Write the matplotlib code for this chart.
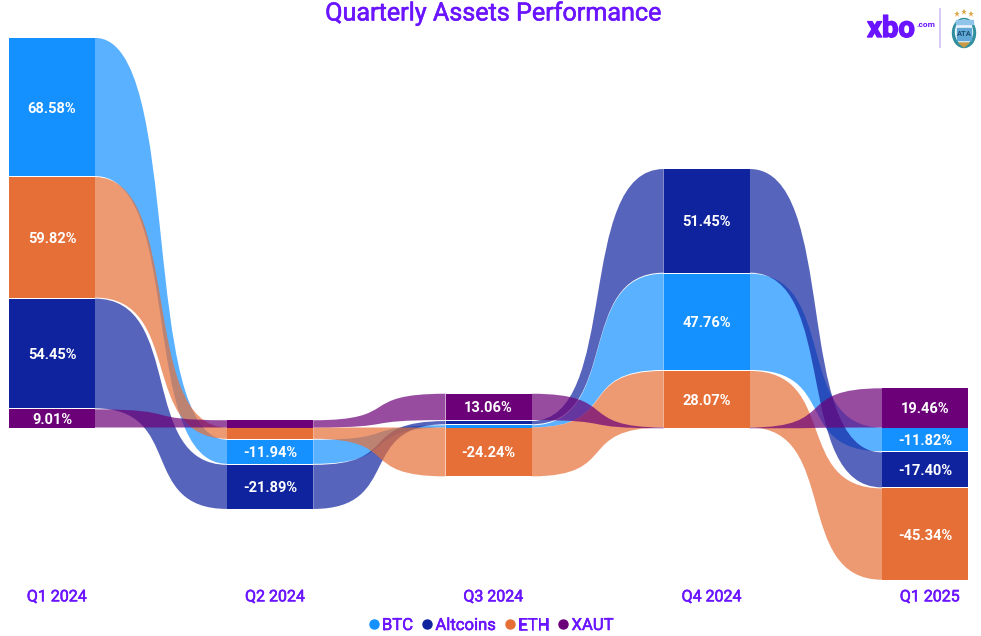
import matplotlib
matplotlib.use("Agg")
import matplotlib.pyplot as plt
import matplotlib.patheffects as pe
from matplotlib.path import Path
from matplotlib.patches import PathPatch, Ellipse, Rectangle, Polygon
from matplotlib.lines import Line2D
from matplotlib.colors import to_rgba

plt.rcParams['font.family'] = ['Roboto', 'DejaVu Sans']

quarters = ['Q1 2024', 'Q2 2024', 'Q3 2024', 'Q4 2024', 'Q1 2025']
assets = ['BTC', 'Altcoins', 'ETH', 'XAUT']
btc = [68.58, -11.94, 1.1, 47.76, -11.82]
altcoins = [54.45, -21.89, 1.6, 51.45, -17.40]
eth = [59.82, -5.6, -24.24, 28.07, -45.34]
xaut = [9.01, 3.6, 13.06, -0.4, 19.46]
colors = ['#1490ff', '#10239e', '#e66e37', '#6b0078']
purple = '#6a14ff'

series = [btc, altcoins, eth, xaut]
bar_w = 86 / 218.25
px = 2.015  # pixels per percentage point
gap = 1 / px
ctrl = 0.68
thick = [pe.withStroke(linewidth=0.4, foreground=purple)]


def stack(q):
    # smallest goes next to zero, positives up and negatives down, 1px between bands
    out = {}
    vals = [s[q] for s in series]
    pos = 0
    for i in sorted(range(4), key=lambda k: vals[k]):
        if vals[i] > 0:
            out[i] = (pos, pos + vals[i])
            pos += vals[i] + gap
    neg = 0
    for i in sorted(range(4), key=lambda k: -vals[k]):
        if vals[i] <= 0:
            out[i] = (neg + vals[i], neg)
            neg += vals[i] - gap
    return out


fig = plt.figure(figsize=(9.81, 6.36), dpi=100)
ax = fig.add_axes([0, 0, 1, 1])
ax.set_xlim(-52 / 218.25, (981 - 52) / 218.25)
ax.set_ylim(-(636 - 427.5) / px, 427.5 / px)
ax.axis('off')

stacks = [stack(q) for q in range(len(quarters))]

for i, s in enumerate(series):
    for q in range(len(quarters)):
        lo, hi = stacks[q][i]
        ax.bar(q, hi - lo, bar_w, bottom=lo, color=colors[i], linewidth=0, zorder=5)
        if abs(s[q]) >= 9:
            ax.annotate('%.2f%%' % s[q], (q, (lo + hi) / 2), xytext=(0, -1.1), textcoords='offset points',
                        color='white', ha='center', va='center', fontsize=10.5, fontweight='bold', zorder=6)
        if q < len(quarters) - 1:
            lo2, hi2 = stacks[q + 1][i]
            x0 = q + bar_w / 2
            x1 = q + 1 - bar_w / 2
            c0 = x0 + (x1 - x0) * ctrl
            c1 = x1 - (x1 - x0) * ctrl
            verts = [(x0, hi), (c0, hi), (c1, hi2), (x1, hi2), (x1, lo2), (c1, lo2), (c0, lo), (x0, lo), (x0, hi)]
            codes = [Path.MOVETO, Path.CURVE4, Path.CURVE4, Path.CURVE4, Path.LINETO,
                     Path.CURVE4, Path.CURVE4, Path.CURVE4, Path.CLOSEPOLY]
            ax.add_patch(PathPatch(Path(verts, codes), facecolor=to_rgba(colors[i], 0.7),
                                   edgecolor='none', zorder=2 + i * 0.1))

for q, name in enumerate(quarters):
    ax.annotate(name, (q, 0), xycoords=('data', 'axes fraction'), xytext=(3.6, 28.2),
                textcoords='offset points', ha='center', va='center', color=purple,
                fontsize=11.5, fontweight='normal', path_effects=thick)

handles = [Line2D([], [], marker='o', linestyle='none', color=c, markersize=6.5) for c in colors]
leg = ax.legend(handles, assets, ncol=4, loc='center', bbox_to_anchor=(0.5, 10.5 / 636), frameon=False,
                labelcolor=purple, fontsize=12, handlelength=0.7, handletextpad=0.15, columnspacing=0.5,
                borderpad=0)
for t in leg.get_texts():
    t.set_path_effects(thick)

fig.text(493 / 981, 1 - 13 / 636, 'Quarterly Assets Performance', ha='center', va='center',
         color=purple, fontsize=18.1, fontweight='normal', path_effects=thick)

# logo, drawn in pixel coordinates
lg = fig.add_axes([0, 0, 1, 1], facecolor='none')
lg.set_xlim(0, 981)
lg.set_ylim(636, 0)
lg.axis('off')
lg.text(891, 29, 'xbo', color=purple, fontsize=21, fontweight='bold', ha='center', va='center',
        path_effects=[pe.withStroke(linewidth=1, foreground=purple)])
lg.text(926, 24.5, '.com', color=purple, fontsize=6, fontweight='bold', ha='center', va='center')
lg.plot([940, 940], [9, 47], color='#d5c3fa', lw=1.3)
lg.add_patch(Ellipse((964, 33), 23, 29, color='#2f8f9d'))
lg.add_patch(Ellipse((964, 32), 17, 24, color='#e9f3fa'))
lg.add_patch(Rectangle((955.5, 20), 17, 4, color='#8fc5ea'))
lg.add_patch(Rectangle((957, 28), 14, 12, color='#5fa8d8'))
lg.text(964, 34, 'ATA', color='#1d4f73', fontsize=5.5, fontweight='bold', ha='center', va='center')
lg.add_patch(Polygon([(959, 43), (969, 43), (964, 47)], color='#c79a45'))
for x, y in [(957, 14), (964, 12), (971, 14)]:
    lg.plot(x, y, marker='*', color='#d9a441', markersize=4.5, markeredgewidth=0)

fig.savefig('out.png', dpi=100)
